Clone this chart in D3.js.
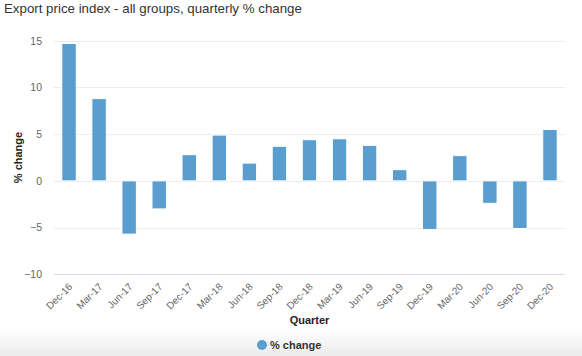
<!DOCTYPE html>
<html><head><meta charset="utf-8">
<script src="https://cdn.jsdelivr.net/npm/d3@7"></script>
<style>body{margin:0;background:#fff}svg{display:block;font-family:"Liberation Sans",Helvetica,Arial,sans-serif}</style>
</head><body><svg id="c" width="582" height="356"></svg>
<script>
const categories = ["Dec-16","Mar-17","Jun-17","Sep-17","Dec-17","Mar-18","Jun-18","Sep-18","Dec-18","Mar-19","Jun-19","Sep-19","Dec-19","Mar-20","Jun-20","Sep-20","Dec-20"];
const values = [14.7, 8.8, -5.7, -3.0, 2.8, 4.9, 1.9, 3.7, 4.4, 4.5, 3.8, 1.2, -5.2, 2.7, -2.4, -5.1, 5.5];
const yTicks = [-10, -5, 0, 5, 10, 15];
const titleText = "Export price index - all groups, quarterly % change";
const yTitle = "% change";
const xTitle = "Quarter";
const seriesName = "% change";

const svg = d3.select("#c");
const W = 582, H = 356;
const m = {l: 54, r: 17, t: 41, b: 82};

const defs = svg.append("defs");
const g1 = defs.append("linearGradient").attr("id","bg").attr("x1",0).attr("y1",0).attr("x2",0).attr("y2",1);
g1.append("stop").attr("offset","0%").attr("stop-color","#ffffff");
g1.append("stop").attr("offset","100%").attr("stop-color","#ebebeb");
svg.append("rect").attr("x",0).attr("y",328).attr("width",W).attr("height",28).attr("fill","url(#bg)");

const x = d3.scaleBand().domain(categories).range([m.l, W - m.r]).paddingInner(0.52).paddingOuter(0.26);
const y = d3.scaleLinear().domain([-10, 15]).range([274.3, 40.7]);

// gridlines
svg.append("g").selectAll("line").data(yTicks.filter(d => d !== -10)).join("line")
  .attr("x1", m.l).attr("x2", W - m.r)
  .attr("y1", d => Math.round(y(d)) + 0.5).attr("y2", d => Math.round(y(d)) + 0.5)
  .attr("stroke", "#ececec").attr("stroke-width", 1);
svg.append("line").attr("x1", m.l).attr("x2", W - m.r)
  .attr("y1", Math.round(y(-10)) + 0.5).attr("y2", Math.round(y(-10)) + 0.5)
  .attr("stroke", "#d4dcf0");

// y axis labels
const yAxis = d3.axisLeft(y).tickValues(yTicks).tickSize(0).tickPadding(0);
const ya = svg.append("g").attr("transform", `translate(${m.l - 12},0)`).call(yAxis);
ya.select(".domain").remove();
ya.selectAll("text").attr("fill", "#666").attr("font-size", 10.5).attr("font-family", "Liberation Sans, Helvetica, Arial, sans-serif");

// x axis labels
const xAxis = d3.axisBottom(x).tickSize(0).tickPadding(0);
const xa = svg.append("g").attr("transform", `translate(0,${y(-10)})`).call(xAxis);
xa.select(".domain").remove();
xa.selectAll("text")
  .attr("fill", "#666").attr("font-size", 10).attr("font-family", "Liberation Sans, Helvetica, Arial, sans-serif")
  .attr("text-anchor", "end").attr("dy", null).attr("y", 0)
  .attr("transform", "translate(4,13) rotate(-45)");

// bars
svg.append("g").selectAll("rect").data(values).join("rect")
  .attr("x", (d, i) => x(categories[i]))
  .attr("width", x.bandwidth())
  .attr("y", d => y(Math.max(0, d)))
  .attr("height", d => Math.abs(y(d) - y(0)))
  .attr("fill", "#5a9dcf").attr("stroke", "#ffffff").attr("stroke-width", 1);

// title
svg.append("text").attr("x", 4).attr("y", 13).attr("font-size", 13.3).attr("fill", "#333")
  .text(titleText);

// y title
svg.append("text").attr("transform", `translate(22,${y(2.5)}) rotate(-90)`).attr("text-anchor", "middle")
  .attr("font-size", 11).attr("font-weight", "bold").attr("fill", "#222").text(yTitle);

// x title
svg.append("text").attr("x", (m.l + W - m.r) / 2).attr("y", 324).attr("text-anchor", "middle")
  .attr("font-size", 11).attr("font-weight", "bold").attr("fill", "#222").text(xTitle);

// legend
svg.append("circle").attr("cx", 262).attr("cy", 345).attr("r", 5).attr("fill", "#5a9dcf");
svg.append("text").attr("x", 270).attr("y", 349).attr("font-size", 11).attr("font-weight", "bold").attr("fill", "#333").text(seriesName);
</script></body></html>
